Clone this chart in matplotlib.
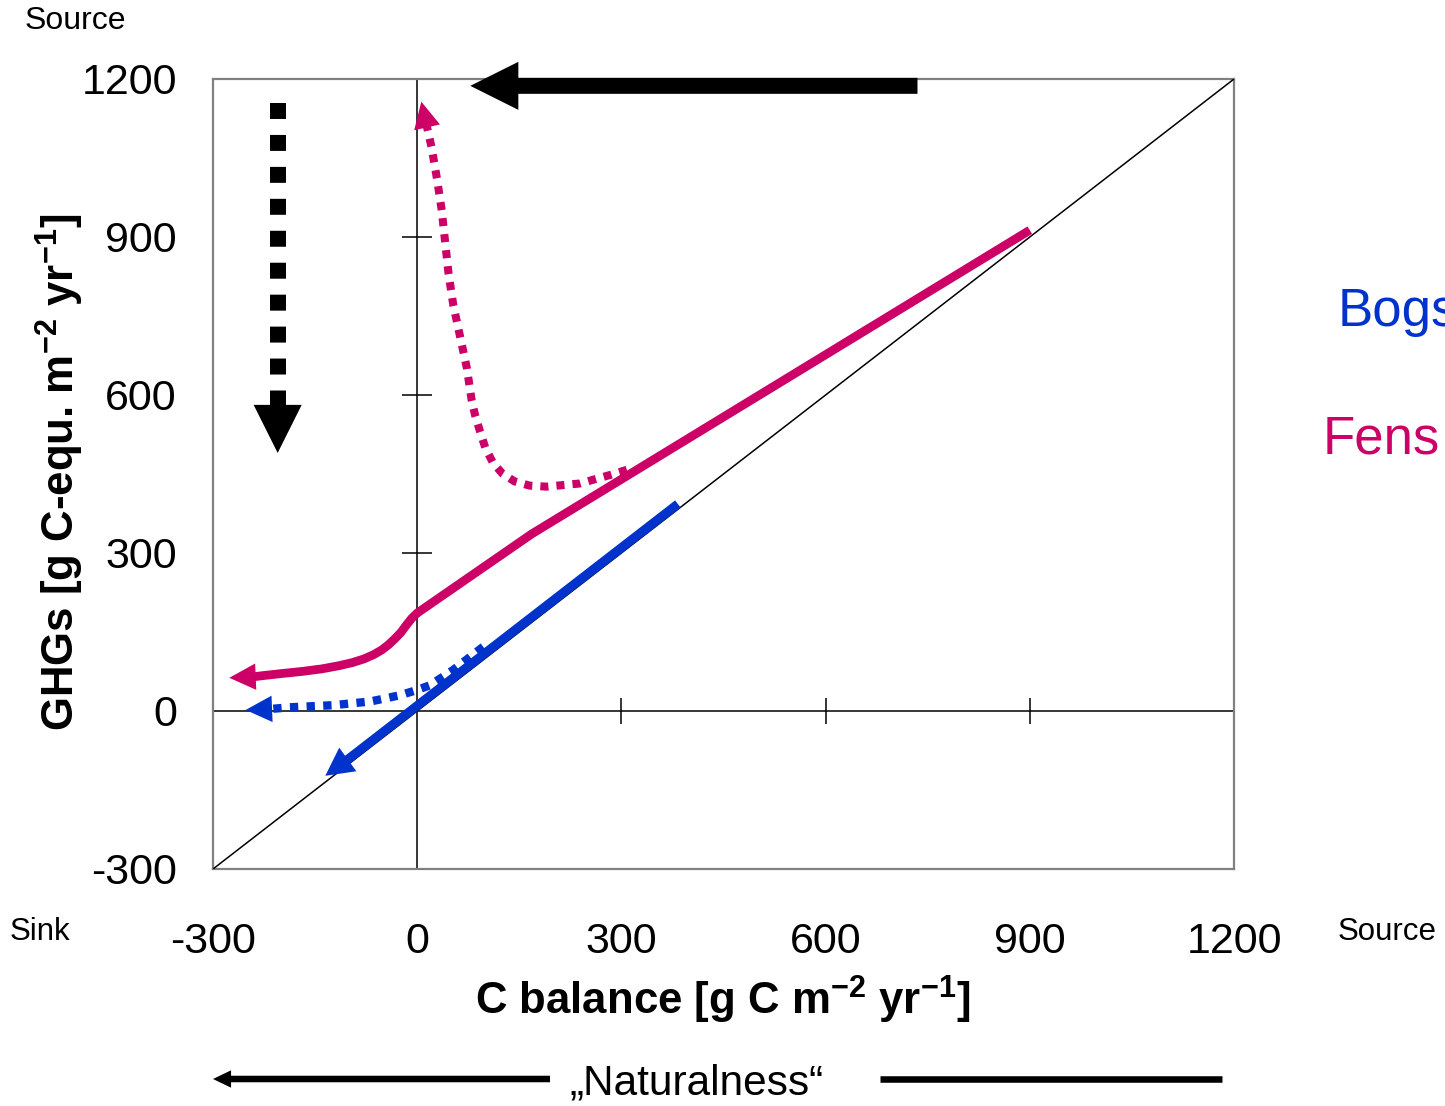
import matplotlib
matplotlib.use("Agg")
import matplotlib.pyplot as plt

plt.rcParams['font.family'] = ['Liberation Sans', 'DejaVu Sans']
plt.rcParams['mathtext.fontset'] = 'custom'
plt.rcParams['mathtext.rm'] = 'Liberation Sans'
plt.rcParams['mathtext.bf'] = 'Liberation Sans:bold'

# ---- data ----
xticks = [-300, 0, 300, 600, 900, 1200]
yticks = [-300, 0, 300, 600, 900, 1200]
xtick_labels = ['-300', '0', '300', '600', '900', '1200']
ytick_labels = ['-300', '0', '300', '600', '900', '1200']
inner_xticks = [-300, 300, 600, 900, 1200]
inner_yticks = [300, 600, 900, 1200]

diag_x = [-300, 1200]
diag_y = [-300, 1200]

fens_solid_x = [900, 168, 0, -8, -16, -24, -33, -42, -52, -64, -78, -95, -115, -140, -170, -200, -228, -240, -276]
fens_solid_y = [913, 336, 186, 176, 163, 149, 137, 126, 116, 107, 99, 92, 86, 80, 75, 71, 67, 65, 63]

fens_dot_x = [308, 283, 239, 190, 165, 143, 125, 111, 100, 92, 85, 80, 73, 63, 53, 46, 41, 36, 29, 21, 14, 6]
fens_dot_y = [458, 448, 432, 426, 428, 436, 451, 472, 500, 532, 562, 590, 651, 711, 771, 831, 891, 951, 1011, 1071, 1111, 1157]

bogs_solid_x = [383, -103, -135]
bogs_solid_y = [393, -93, -123]

bogs_dot_x = [97, 75, 53, 19, 0, -25, -69, -124, -187, -214, -252]
bogs_dot_y = [122, 100, 78, 49, 40, 30, 18, 11, 7, 4, 2]

top_arrow_x = [735, 78]
top_arrow_y = [1187, 1187]

down_arrow_x = [-205, -205, -205]
down_arrow_y = [1154, 577, 490]

PINK = '#CC0066'
BLUE = '#0033CC'

fig = plt.figure(figsize=(14.45, 11.06), dpi=100)
ax = fig.add_axes([213/1445, 1 - 869/1106, 1021/1445, 790/1106])
ax.set_xlim(-300, 1200)
ax.set_ylim(-300, 1200)
for s in ax.spines.values():
    s.set_color('#808080')
    s.set_linewidth(1.6)

ax.set_xticks(xticks)
ax.set_xticklabels(xtick_labels)
ax.set_yticks(yticks)
ax.set_yticklabels(ytick_labels)
ax.tick_params(length=0, labelsize=31)
ax.tick_params(axis='x', pad=38)
ax.tick_params(axis='y', pad=26)

# inner axes
ax.axhline(0, color='black', lw=1.1, zorder=2)
ax.axvline(0, color='black', lw=1.1, zorder=2)
ax.plot(inner_xticks, [0]*len(inner_xticks), ls='none', marker='|', ms=19,
        mew=1.1, color='black', clip_on=False, zorder=2)
ax.plot([0]*len(inner_yticks), inner_yticks, ls='none', marker='_', ms=21,
        mew=1.1, color='black', clip_on=False, zorder=2)

# 1:1 line
ax.plot(diag_x, diag_y, color='black', lw=1.1, zorder=3)

def head(xs, ys, color, hl=1.9, hw=0.95):
    ax.annotate('', xy=(xs[-1], ys[-1]), xytext=(xs[-2], ys[-2]),
                arrowprops=dict(arrowstyle=f'-|>,head_length={hl},head_width={hw}',
                                color=color, lw=0, shrinkA=0, shrinkB=0,
                                mutation_scale=10), zorder=5)

# Fens
ax.plot(fens_solid_x[:-1], fens_solid_y[:-1], color=PINK, lw=6.3,
        solid_capstyle='butt', solid_joinstyle='round', zorder=4)
head(fens_solid_x, fens_solid_y, PINK)
ax.plot(fens_dot_x[:-1], fens_dot_y[:-1], color=PINK, lw=5.8,
        ls=(0, (1, 1)), dash_capstyle='butt', zorder=4)
head(fens_dot_x, fens_dot_y, PINK)

# Bogs
ax.plot(bogs_solid_x[:-1], bogs_solid_y[:-1], color=BLUE, lw=6.6,
        solid_capstyle='butt', zorder=4)
head(bogs_solid_x, bogs_solid_y, BLUE, hl=2.0, hw=1.05)
ax.plot(bogs_dot_x[:-1], bogs_dot_y[:-1], color=BLUE, lw=6.0,
        ls=(0, (1, 1)), dash_capstyle='butt', zorder=4)
head(bogs_dot_x, bogs_dot_y, BLUE)

# black arrows
ax.annotate('', xy=(top_arrow_x[1], top_arrow_y[1]), xytext=(top_arrow_x[0], top_arrow_y[0]),
            arrowprops=dict(arrowstyle='simple,head_length=3.46,head_width=3.46,tail_width=1.15',
                            color='black', lw=0, shrinkA=0, shrinkB=0, mutation_scale=10),
            zorder=6, annotation_clip=False)
ax.plot(down_arrow_x[:2], down_arrow_y[:2], color='black', lw=11.5,
        ls=(0, (1, 1)), dash_capstyle='butt', zorder=6)
ax.annotate('', xy=(down_arrow_x[2], down_arrow_y[2]), xytext=(down_arrow_x[1], down_arrow_y[1]),
            arrowprops=dict(arrowstyle='-|>,head_length=3.46,head_width=1.73',
                            color='black', lw=0, shrinkA=0, shrinkB=0, mutation_scale=10),
            zorder=6)

# axis labels
fig.text(60/1445, 1 - 472/1106, r'GHGs [g C-equ. m$^{\mathbf{-2}}$ yr$^{\mathbf{-1}}$]',
         rotation=90, ha='center', va='center', fontsize=31.5, fontweight='bold')
fig.text(723/1445, 1 - 1000/1106, r'C balance [g C m$^{\mathbf{-2}}$ yr$^{\mathbf{-1}}$]',
         ha='center', va='center', fontsize=31.5, fontweight='bold')

# side texts
fig.text(25/1445, 1 - 21/1106, 'Source', ha='left', va='center', fontsize=23)
fig.text(10/1445, 1 - 932/1106, 'Sink', ha='left', va='center', fontsize=22.5)
fig.text(1338/1445, 1 - 932/1106, 'Source', ha='left', va='center', fontsize=22.5)
fig.text(1338/1445, 1 - 312/1106, 'Bogs', ha='left', va='center', fontsize=38, color=BLUE)
fig.text(1323/1445, 1 - 440/1106, 'Fens', ha='left', va='center', fontsize=38, color=PINK)

# naturalness
fig.text(697/1445, 1 - 1083/1106, '\u201eNaturalness\u201c', ha='center', va='center', fontsize=30.5)
ax.annotate('', xy=(213/1445, 1 - 1079/1106), xytext=(550/1445, 1 - 1079/1106),
            xycoords='figure fraction', textcoords='figure fraction',
            arrowprops=dict(arrowstyle='simple,head_length=1.3,head_width=1.25,tail_width=0.47',
                            color='black', lw=0, shrinkA=0, shrinkB=0, mutation_scale=10),
            annotation_clip=False)
fig.add_artist(plt.Line2D([880/1445, 1222/1445], [1 - 1079/1106, 1 - 1079/1106],
                          transform=fig.transFigure, color='black', lw=4.7, solid_capstyle='butt'))

fig.savefig('out.png', dpi=100)
